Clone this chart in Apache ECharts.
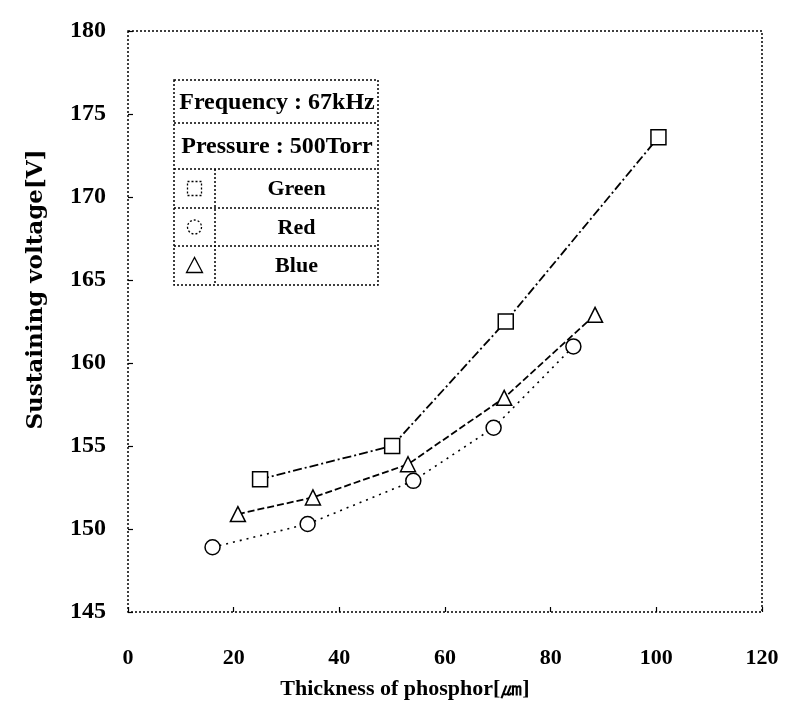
<!DOCTYPE html>
<html><head><meta charset="utf-8">
<script src="https://cdn.jsdelivr.net/npm/echarts@6/dist/echarts.min.js"></script>
<style>html,body{margin:0;padding:0;background:#fff}#c{width:791px;height:717px}</style>
</head><body><div id="c"></div>
<script>
var greenX = [25, 50, 71.5, 100.4];
var greenY = [153, 155, 162.5, 173.6];
var redX = [16, 34, 54, 69.2, 84.3];
var redY = [148.9, 150.3, 152.9, 156.1, 161];
var blueX = [20.8, 35, 53, 71.2, 88.4];
var blueY = [150.9, 151.9, 153.9, 157.9, 162.9];
var legendLines = ['Frequency : 67kHz', 'Pressure : 500Torr'];
var seriesNames = ['Green', 'Red', 'Blue'];
var xTitle = 'Thickness of phosphor[\u339b]';
var yTitle = 'Sustaining voltage[V]';

function pairs(xs, ys) { return xs.map(function (x, i) { return [x, ys[i]]; }); }

var FONT = '"Liberation Serif", "Times New Roman", serif';
var WIDE = '"DejaVu Serif", serif';
var chart = echarts.init(document.getElementById('c'), null, {renderer: 'canvas'});

var G = {left: 128, top: 31, width: 634, height: 581};
var dash = [2, 2];
var L = {x0: 174, x1: 378, y: [80, 123, 169, 208, 246, 285], div: 215};

var graphics = [
  {type: 'rect', shape: {x: G.left, y: G.top, width: G.width, height: G.height},
   style: {fill: 'none', stroke: '#000', lineWidth: 1.5, lineDash: dash}, z: 1},
  {type: 'rect', shape: {x: L.x0, y: L.y[0], width: L.x1 - L.x0, height: L.y[5] - L.y[0]},
   style: {fill: '#fff', stroke: '#000', lineWidth: 1.5, lineDash: dash}, z: 10},
  {type: 'line', shape: {x1: L.div, y1: L.y[2], x2: L.div, y2: L.y[5]},
   style: {stroke: '#000', lineWidth: 1.5, lineDash: dash}, z: 11}
];
for (var i = 1; i < 5; i++) {
  graphics.push({type: 'line', shape: {x1: L.x0, y1: L.y[i], x2: L.x1, y2: L.y[i]},
    style: {stroke: '#000', lineWidth: 1.5, lineDash: dash}, z: 11});
}
legendLines.forEach(function (t, i) {
  graphics.push({type: 'text', x: (L.x0 + L.x1) / 2 + 1, y: (L.y[i] + L.y[i + 1]) / 2 + 1,
    style: {text: t, font: 'bold 24px ' + FONT, fill: '#000', align: 'center', verticalAlign: 'middle'}, z: 12});
});
seriesNames.forEach(function (t, i) {
  var cy = (L.y[i + 2] + L.y[i + 3]) / 2;
  graphics.push({type: 'text', x: (L.div + L.x1) / 2, y: cy + 1,
    style: {text: t, font: 'bold 22px ' + FONT, fill: '#000', align: 'center', verticalAlign: 'middle'}, z: 12});
  var cx = (L.x0 + L.div) / 2;
  var st = {fill: '#fff', stroke: '#000', lineWidth: 1.3, lineDash: i < 2 ? [2, 2] : null};
  if (i === 0) graphics.push({type: 'rect', shape: {x: cx - 7, y: cy - 7, width: 14, height: 14}, style: st, z: 12});
  if (i === 1) graphics.push({type: 'circle', shape: {cx: cx, cy: cy, r: 7}, style: st, z: 12});
  if (i === 2) graphics.push({type: 'polygon', shape: {points: [[cx, cy - 8], [cx - 8, cy + 7], [cx + 8, cy + 7]]}, style: st, z: 12});
});

var mk = {color: '#fff', borderColor: '#000', borderWidth: 1.5};
chart.setOption({
  animation: false,
  backgroundColor: '#fff',
  grid: {left: G.left, top: G.top, width: G.width, height: G.height, show: false},
  xAxis: {
    type: 'value', min: 0, max: 120, interval: 20,
    name: xTitle, nameLocation: 'middle', nameGap: 66,
    nameTextStyle: {fontFamily: FONT, fontWeight: 'bold', fontSize: 22, color: '#000', padding: [0, 80, 0, 0]},
    axisLine: {show: false},
    axisTick: {show: true, inside: true, length: 5, lineStyle: {color: '#000', width: 1.2}},
    axisLabel: {margin: 35, fontFamily: FONT, fontWeight: 'bold', fontSize: 22, color: '#000'},
    splitLine: {show: false}
  },
  yAxis: {
    type: 'value', min: 145, max: 180, interval: 5,
    name: yTitle, nameLocation: 'middle', nameGap: 80,
    nameTextStyle: {fontFamily: WIDE, fontWeight: 'bold', fontSize: 23, color: '#000', padding: [0, 0, 0, 64]},
    axisLine: {show: false},
    axisTick: {show: true, inside: true, length: 5, lineStyle: {color: '#000', width: 1.2}},
    axisLabel: {margin: 22, fontFamily: FONT, fontWeight: 'bold', fontSize: 24, color: '#000'},
    splitLine: {show: false}
  },
  series: [
    {name: 'Green', type: 'line', data: pairs(greenX, greenY), symbol: 'rect', symbolSize: 15,
     itemStyle: mk, lineStyle: {color: '#000', width: 1.8, type: [9, 3, 2, 3]}, z: 3},
    {name: 'Red', type: 'line', data: pairs(redX, redY), symbol: 'circle', symbolSize: 15,
     itemStyle: mk, lineStyle: {color: '#000', width: 1.6, type: [2, 5]}, z: 3},
    {name: 'Blue', type: 'line', data: pairs(blueX, blueY), symbol: 'triangle', symbolSize: 15,
     itemStyle: mk, lineStyle: {color: '#000', width: 1.8, type: [7, 3]}, z: 3}
  ],
  graphic: graphics
});
</script>
</body></html>
